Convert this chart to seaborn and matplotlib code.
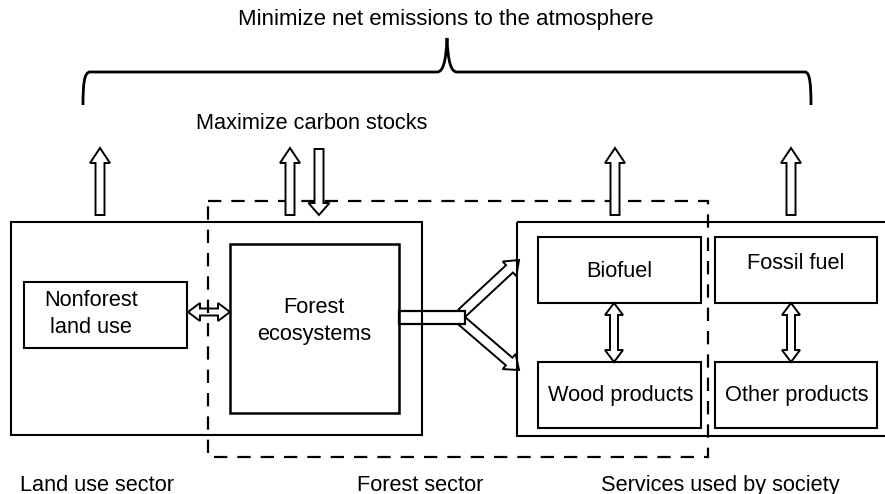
import numpy as np
import matplotlib
matplotlib.use("Agg")
import matplotlib.pyplot as plt
from matplotlib.patches import Rectangle, Polygon
from matplotlib.path import Path
from matplotlib.patches import PathPatch
import seaborn as sns

# ---- content (text) ----
top_title = "Minimize net emissions to the atmosphere"
mid_title = "Maximize carbon stocks"
sector_labels = ["Land use sector", "Forest sector", "Services used by society"]
box_labels = ["Nonforest\nland use", "Forest\necosystems", "Biofuel",
              "Fossil fuel", "Wood products", "Other products"]

# ---- layout (pixel coordinates, y downwards) ----
sector_label_x = [97, 420, 720]
sector_label_y = 485
box_geom = [  # x0, y0, x1, y1
    (24, 282, 187, 348),
    (230, 244, 399, 413),
    (538, 237, 701, 303),
    (715, 237, 877, 303),
    (538, 362, 701, 428),
    (715, 362, 877, 428),
]
box_text_pos = [(91, 314), (314, 321), (619, 271), (796, 263), (621, 395), (797, 395)]

sns.set_theme(style="white")
plt.rcParams['font.family'] = ['Liberation Sans', 'DejaVu Sans']
plt.rcParams['text.color'] = 'black'
FS = 15.7

fig = plt.figure(figsize=(8.85, 4.94), dpi=100)
ax = fig.add_axes([0, 0, 1, 1])
ax.set_xlim(0, 885)
ax.set_ylim(494, 0)
ax.axis("off")

LW = 1.5


def rect(x0, y0, x1, y1, lw=LW, z=3, **kw):
    ax.add_patch(Rectangle((x0, y0), x1 - x0, y1 - y0, fill=False,
                           edgecolor="black", lw=lw, zorder=z, **kw))


def arrow_poly(p0, p1, w, hw, hl, double=False):
    p0 = np.array(p0, float)
    p1 = np.array(p1, float)
    u = (p1 - p0) / np.linalg.norm(p1 - p0)
    n = np.array([-u[1], u[0]])
    pts = []
    if double:
        b0 = p0 + u * hl
        pts += [p0, b0 + n * hw / 2, b0 + n * w / 2]
    else:
        pts += [p0 + n * w / 2]
    b1 = p1 - u * hl
    pts += [b1 + n * w / 2, b1 + n * hw / 2, p1, b1 - n * hw / 2, b1 - n * w / 2]
    if double:
        pts += [b0 - n * w / 2, b0 - n * hw / 2]
    else:
        pts += [p0 - n * w / 2]
    return np.array(pts)


def arrow(p0, p1, w=8, hw=19, hl=14, double=False, z=5):
    ax.add_patch(Polygon(arrow_poly(p0, p1, w, hw, hl, double), closed=True,
                         facecolor="white", edgecolor="black", lw=1.4,
                         joinstyle="miter", zorder=z))


# ---- texts ----
ax.text(446, 20, top_title, ha="center", va="center", fontsize=FS + 0.3, color="black")
ax.text(312, 123, mid_title, ha="center", va="center", fontsize=FS, color="black")
for lab, x in zip(sector_labels, sector_label_x):
    ax.text(x, sector_label_y, lab, ha="center", va="center", fontsize=FS, color="black")
for lab, (x, y) in zip(box_labels, box_text_pos):
    ax.text(x, y, lab, ha="center", va="center", fontsize=FS,
            linespacing=1.4, color="black")

# ---- brace ----
verts = [(83, 105), (83, 85), (84, 72), (90, 72),
         (437, 72), (443, 72), (446, 62), (447, 38),
         (448, 62), (451, 72), (457, 72),
         (805, 72), (810, 72), (811, 85), (811, 105)]
codes = [Path.MOVETO, Path.CURVE4, Path.CURVE4, Path.CURVE4,
         Path.LINETO, Path.CURVE4, Path.CURVE4, Path.CURVE4,
         Path.CURVE4, Path.CURVE4, Path.CURVE4,
         Path.LINETO, Path.CURVE4, Path.CURVE4, Path.CURVE4]
ax.add_patch(PathPatch(Path(verts, codes), fill=False, edgecolor="black",
                       lw=2.0, zorder=3))

# ---- big sector boxes ----
rect(11, 222, 422, 435, z=3)
rect(517, 222, 905, 436, z=3, clip_on=True)

# inner boxes
for i, (x0, y0, x1, y1) in enumerate(box_geom):
    rect(x0, y0, x1, y1, lw=1.8 if i == 1 else LW, z=3)

# ---- dashed forest sector box ----
ax.add_patch(Rectangle((208, 201), 708 - 208, 457 - 201, fill=False,
                       edgecolor="black", lw=1.6, linestyle=(0, (6, 4.5)),
                       zorder=2.5))

# ---- horizontal double arrow (nonforest <-> forest) ----
arrow((188, 312), (230, 312), w=7, hw=18, hl=12, double=True, z=2)

# ---- connector from forest ecosystems to products ----
arrow((462, 313), (519, 260), w=10, hw=20, hl=13, z=2)
arrow((462, 321), (519, 370), w=10, hw=20, hl=13, z=2)
ax.add_patch(Rectangle((399, 311), 465 - 399, 13, facecolor="white",
                       edgecolor="black", lw=1.6, zorder=2.2))

# ---- vertical double arrows ----
arrow((614, 303), (614, 362), w=8, hw=18, hl=12, double=True)
arrow((791, 303), (791, 362), w=8, hw=18, hl=12, double=True)

# ---- up / down arrows ----
for x in [100, 290, 615, 791]:
    arrow((x, 215), (x, 148), w=9, hw=20, hl=15)
arrow((319, 149), (319, 215), w=9, hw=21, hl=12)

fig.savefig("out.png", dpi=100)
